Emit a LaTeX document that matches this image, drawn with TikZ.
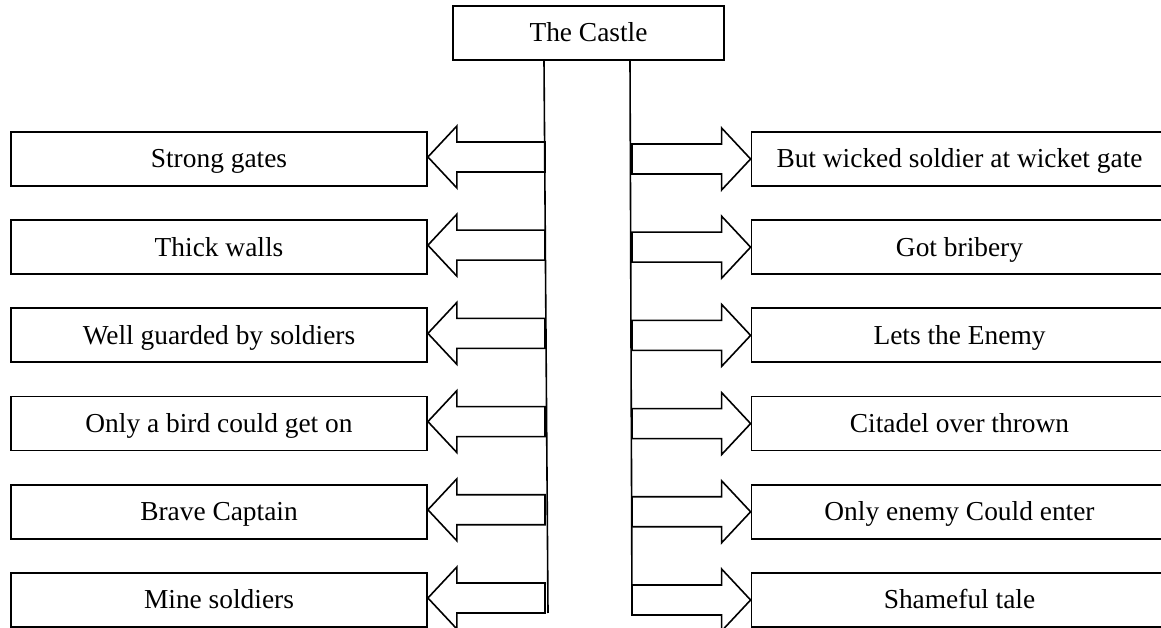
\documentclass[tikz,border=0pt]{standalone}
\usepackage{fontspec}
\setmainfont{Liberation Serif}
\usetikzlibrary{positioning}

\tikzset{
  item/.style={draw, line width=1.8pt, minimum width=416pt, minimum height=54pt,
    inner sep=0pt, text height=18pt, text depth=0pt, font=\fontsize{27.4}{33}\selectfont},
  blockarrow/.style={draw, line width=1.6pt, line join=miter},
  stem/.style={draw, line width=1.6pt},
}

\begin{document}
\begin{tikzpicture}[x=1pt, y=1pt, node distance=32.4pt]
  \useasboundingbox (0,0) rectangle (1161,628);

  \node[item, minimum width=271pt] (castle) at (588.5,595) {The Castle};

  \node[item] (good1) at (219,469) {Strong gates};
  \node[item, below=of good1] (good2) {Thick walls};
  \node[item, below=of good2] (good3) {Well guarded by soldiers};
  \node[item, below=of good3] (good4) {Only a bird could get on};
  \node[item, below=of good4] (good5) {Brave Captain};
  \node[item, below=of good5] (good6) {Mine soldiers};

  \node[item] (bad1) at (959.5,469) {But wicked soldier at wicket gate};
  \node[item, below=of bad1] (bad2) {Got bribery};
  \node[item, below=of bad2] (bad3) {Lets the Enemy};
  \node[item, below=of bad3] (bad4) {Citadel over thrown};
  \node[item, below=of bad4] (bad5) {Only enemy Could enter};
  \node[item, below=of bad5] (bad6) {Shameful tale};

  % the two stems under the castle
  \coordinate (ltop) at ([xshift=-44.5pt]castle.south);
  \coordinate (rtop) at ([xshift=41.5pt]castle.south);
  \coordinate (lbot) at (548,15);
  \coordinate (rbot) at (632,15);
  \draw[stem] (ltop) -- (lbot);
  \draw[stem] (rtop) -- (rbot);

  % block arrows
  \foreach \i in {1,...,6} {
    \coordinate (lt\i) at ([yshift=2pt]good\i.east);
    \coordinate (ls\i) at ([xshift=1pt]lt\i -| ltop);
    \draw[blockarrow] (lt\i) -- ++(29,31) -- ++(0,-16) -- ([yshift=15pt]ls\i)
      -- ([yshift=-15pt]ls\i) -- ([shift={(29,-15)}]lt\i) -- ([shift={(29,-31)}]lt\i) -- cycle;
    \coordinate (rt\i) at (bad\i.west);
    \coordinate (rs\i) at ([xshift=2pt]rt\i -| rtop);
    \draw[blockarrow] (rt\i) -- ++(-29,31) -- ++(0,-16) -- ([yshift=15pt]rs\i)
      -- ([yshift=-15pt]rs\i) -- ([shift={(-29,-15)}]rt\i) -- ([shift={(-29,-31)}]rt\i) -- cycle;
  }
\end{tikzpicture}
\end{document}
